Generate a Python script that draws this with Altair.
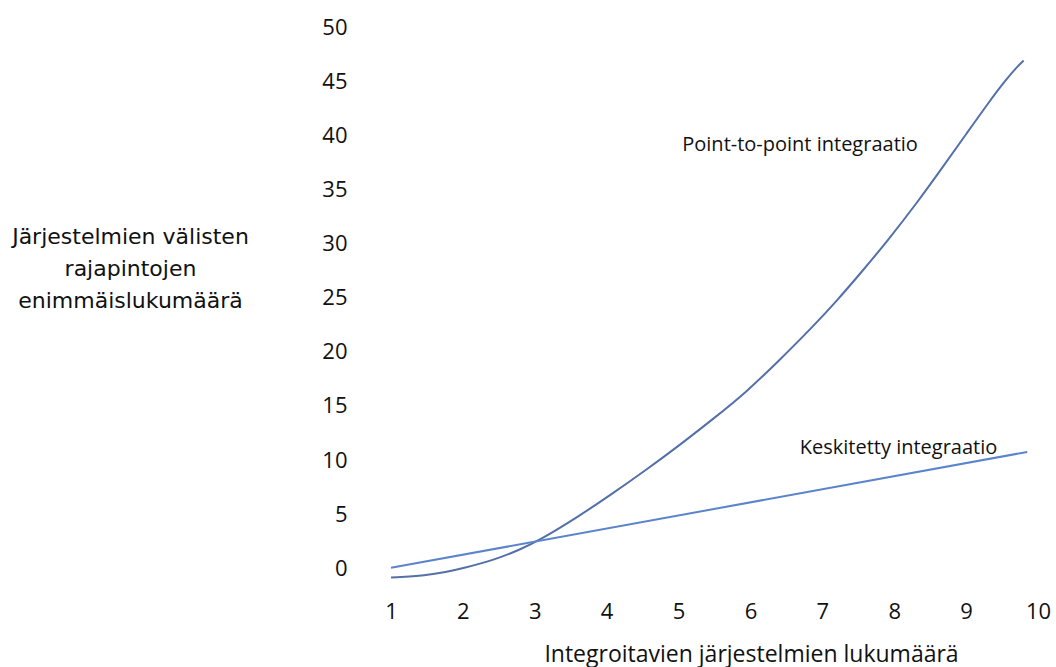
import altair as alt
import pandas as pd

# Point-to-point integration curve
p2p_x = [1.0, 1.5, 1.76, 2.0, 2.45, 2.8, 3.08, 3.61, 4.07, 4.54, 5.0, 5.5, 5.93,
         6.4, 6.85, 7.2, 7.55, 7.9, 8.3, 8.7, 9.0, 9.31, 9.55, 9.72, 9.8]
p2p_y = [-0.85, -0.65, -0.35, 0.0, 0.8, 1.75, 2.65, 4.8, 6.85, 9.05, 11.3, 13.9, 16.2,
         19.2, 22.2, 24.7, 27.4, 30.2, 33.6, 37.3, 40.1, 43.0, 45.1, 46.4, 46.9]

# Centralised integration line
cen_x = [1.0, 9.85]
cen_y = [0.05, 10.75]

x_ticks = [1, 2, 3, 4, 5, 6, 7, 8, 9, 10]
y_ticks = [0, 5, 10, 15, 20, 25, 30, 35, 40, 45, 50]

labels_text = ["Point-to-point integraatio", "Keskitetty integraatio"]
labels_x = [6.69, 8.06]
labels_y = [39.1, 11.1]

p2p = pd.DataFrame({"x": p2p_x, "y": p2p_y})
cen = pd.DataFrame({"x": cen_x, "y": cen_y})
lab = pd.DataFrame({"t": labels_text, "x": labels_x, "y": labels_y})

xs = alt.Scale(domain=[1, 10], nice=False, zero=False)
ys = alt.Scale(domain=[-2, 50], nice=False, zero=False)

xaxis = alt.Axis(values=x_ticks, format="d", domain=False, ticks=False, grid=False,
                 labelFont="Open Sans", labelFontSize=22, labelColor="#111111",
                 labelPadding=11, labelFlush=False,
                 title="Integroitavien järjestelmien lukumäärä",
                 titleFont="Open Sans", titleFontSize=23, titleFontWeight="normal",
                 titleColor="#111111", titleX=360, titleY=64, titleBaseline="middle",
                 titleAlign="center")
yaxis = alt.Axis(values=y_ticks, format="d", domain=False, ticks=False, grid=False,
                 labelFont="Open Sans", labelFontSize=22, labelColor="#111111",
                 labelPadding=44, labelFlush=False,
                 title=["Järjestelmien välisten", "rajapintojen", "enimmäislukumäärä"],
                 titleFont="DejaVu Sans", titleFontSize=22, titleFontWeight="normal",
                 titleColor="#111111", titleAngle=0, titleX=-261, titleY=216,
                 titleAlign="center", titleBaseline="alphabetic", titleLineHeight=32)

l1 = alt.Chart(p2p).mark_line(color="#5470a8", strokeWidth=2, interpolate="basis").encode(
    x=alt.X("x:Q", scale=xs, axis=xaxis),
    y=alt.Y("y:Q", scale=ys, axis=yaxis),
)
l2 = alt.Chart(cen).mark_line(color="#5b84cc", strokeWidth=2).encode(
    x=alt.X("x:Q", scale=xs),
    y=alt.Y("y:Q", scale=ys),
)
t = alt.Chart(lab).mark_text(font="Open Sans", fontSize=20, color="#111111").encode(
    x=alt.X("x:Q", scale=xs),
    y=alt.Y("y:Q", scale=ys),
    text="t:N",
)

chart = alt.layer(l1, l2, t).properties(
    width=647, height=563,
    padding={"left": 391, "top": 27, "right": 18, "bottom": 77},
    autosize=alt.AutoSizeParams(type="none"),
    background="#ffffff",
).configure_view(strokeWidth=0, stroke="transparent")

chart.save("out.html", embed_options={"renderer": "svg", "actions": False})
